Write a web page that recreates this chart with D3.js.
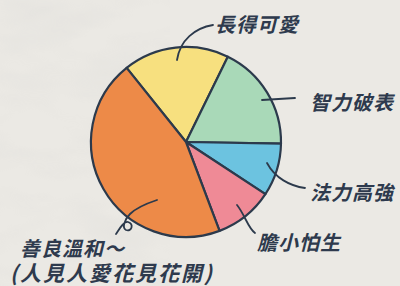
<!DOCTYPE html>
<html>
<head>
<meta charset="utf-8">
<script src="https://cdn.jsdelivr.net/npm/d3@7"></script>
<style>
  html, body { margin: 0; padding: 0; background: #ebe9e4; }
  svg { display: block; }
  .label { font-family: "Noto Sans CJK TC", "Noto Sans CJK SC", sans-serif; font-weight: 700; font-style: italic; fill: #2e3a4d; }
</style>
</head>
<body>
<div id="chart"></div>
<script>
// data
const categories = ["長得可愛", "智力破表", "法力高強", "膽小怕生", "善良溫和～"];
const values = [18, 18, 9, 10, 45];
const colors = ["#f7e07f", "#a9d9b8", "#6cc3e0", "#ef8a96", "#ed8a48"];
const subLabel = "(人見人愛花見花開)";

const width = 400, height = 286;
const cx = 186, cy = 142, radius = 95;
const ink = "#2c3a4c";

const svg = d3.select("#chart")
    .append("svg")
    .attr("width", width)
    .attr("height", height);

// paper texture
const defs = svg.append("defs");
const paper = defs.append("filter").attr("id", "paper").attr("x", 0).attr("y", 0).attr("width", "100%").attr("height", "100%");
paper.append("feTurbulence").attr("type", "fractalNoise").attr("baseFrequency", "0.012 0.03").attr("numOctaves", 3).attr("seed", 4);
paper.append("feColorMatrix").attr("type", "matrix")
    .attr("values", "0 0 0 0 0.55  0 0 0 0 0.55  0 0 0 0 0.55  0 0 0 -1.6 0.95");

svg.append("rect").attr("width", width).attr("height", height).attr("fill", "#ebe9e4");
svg.append("rect").attr("width", 170).attr("height", height).attr("fill", "#fff")
    .attr("filter", "url(#paper)").attr("opacity", 0.18);

const g = svg.append("g").attr("transform", `translate(${cx},${cy})`);

const pie = d3.pie()
    .sort(null)
    .value(d => d)
    .startAngle(-0.675)
    .endAngle(-0.675 + 2 * Math.PI);

const arc = d3.arc().innerRadius(0).outerRadius(radius);

g.selectAll("path.slice")
    .data(pie(values))
    .enter()
    .append("path")
    .attr("class", "slice")
    .attr("d", arc)
    .attr("fill", (d, i) => colors[i])
    .attr("stroke", ink)
    .attr("stroke-width", 2.2)
    .attr("stroke-linejoin", "round");

// leader lines (relative to pie centre)
const leaders = [
    "M-9,-82 C-6,-102 9,-114 27,-117",
    "M76,-42 L109,-44",
    "M81,21 C89,36 104,44 119,46",
    "M51,63 C59,73 62,86 69,91",
    "M-29,58 C-38,61 -50,66 -56,72 C-62,78 -64,86 -60,88 C-54,90 -52,82 -58,80 C-62,79 -66,86 -70,92"
];

g.selectAll("path.leader")
    .data(leaders)
    .enter()
    .append("path")
    .attr("class", "leader")
    .attr("d", d => d)
    .attr("fill", "none")
    .attr("stroke", ink)
    .attr("stroke-width", 1.8)
    .attr("stroke-linecap", "round");

// labels
const labelPos = [[215, 32], [310, 110], [310, 200], [257, 250], [20, 256]];

svg.selectAll("text.label")
    .data(categories)
    .enter()
    .append("text")
    .attr("class", "label")
    .attr("x", (d, i) => labelPos[i][0])
    .attr("y", (d, i) => labelPos[i][1])
    .attr("font-size", 20)
    .attr("letter-spacing", 1)
    .text(d => d);

svg.append("text")
    .attr("class", "label")
    .attr("x", 10)
    .attr("y", 281)
    .attr("font-size", 21)
    .attr("letter-spacing", 2)
    .text(subLabel);
</script>
</body>
</html>
